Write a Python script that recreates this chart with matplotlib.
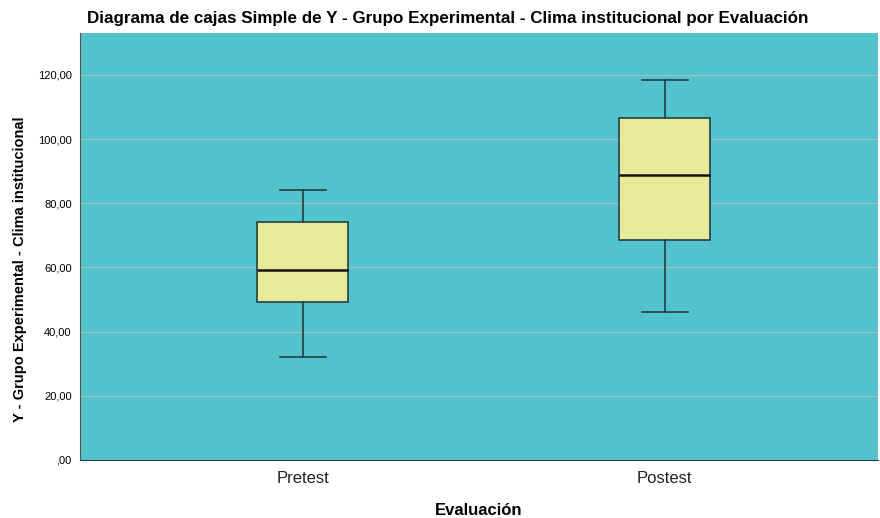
import numpy as np
import matplotlib.pyplot as plt

plt.rcParams['font.family'] = ['Liberation Sans', 'DejaVu Sans']

# box statistics
grupos = ['Pretest', 'Postest']
minimo = [32.0, 46.0]
q1 = [49.3, 68.7]
mediana = [59.3, 88.7]
q3 = [74.3, 106.7]
maximo = [84.2, 118.3]
yticks = [0, 20, 40, 60, 80, 100, 120]
ytick_labels = [',00', '20,00', '40,00', '60,00', '80,00', '100,00', '120,00']

stats = []
for i, g in enumerate(grupos):
    stats.append(dict(label=g, whislo=minimo[i], q1=q1[i], med=mediana[i],
                      q3=q3[i], whishi=maximo[i], fliers=[]))

fig = plt.figure(figsize=(8.8, 5.18), dpi=100)
ax = fig.add_axes([0.0909, 0.112, 0.907, 0.824])
ax.set_facecolor('#52C3CD')

edge = '#1F3F42'
bp = ax.bxp(stats, positions=[1, 2], widths=0.25, patch_artist=True,
            showfliers=False,
            boxprops=dict(facecolor='#E8EA9A', edgecolor=edge, linewidth=1.2),
            medianprops=dict(color='#111111', linewidth=1.8),
            whiskerprops=dict(color=edge, linewidth=1.2),
            capprops=dict(color=edge, linewidth=1.2),
            capwidths=0.127)

ax.set_xlim(0.385, 2.59)
ax.set_ylim(0, 133)
ax.set_yticks(yticks)
ax.set_yticklabels(ytick_labels, fontsize=8)
ax.yaxis.grid(True, color='#98C2C4', linewidth=1)
ax.set_axisbelow(True)
ax.tick_params(axis='y', length=0, pad=6)
ax.tick_params(axis='x', length=0, labelsize=12, pad=8, colors='#222222')
for s in ['top', 'right']:
    ax.spines[s].set_visible(False)
ax.spines['left'].set_color('#555555')
ax.spines['bottom'].set_color('#1F3F42')

ax.set_xlabel('Evaluación', fontsize=12, fontweight='bold', labelpad=12)
ax.set_ylabel('Y - Grupo Experimental - Clima institucional', fontsize=10.5,
              fontweight='bold')
ax.yaxis.set_label_coords(-0.067, 0.447)
fig.text(0.099, 0.965, 'Diagrama de cajas Simple de Y - Grupo Experimental - Clima institucional por Evaluación',
         fontsize=12.25, fontweight='bold', va='center', ha='left')

fig.savefig('out.png', dpi=100)
